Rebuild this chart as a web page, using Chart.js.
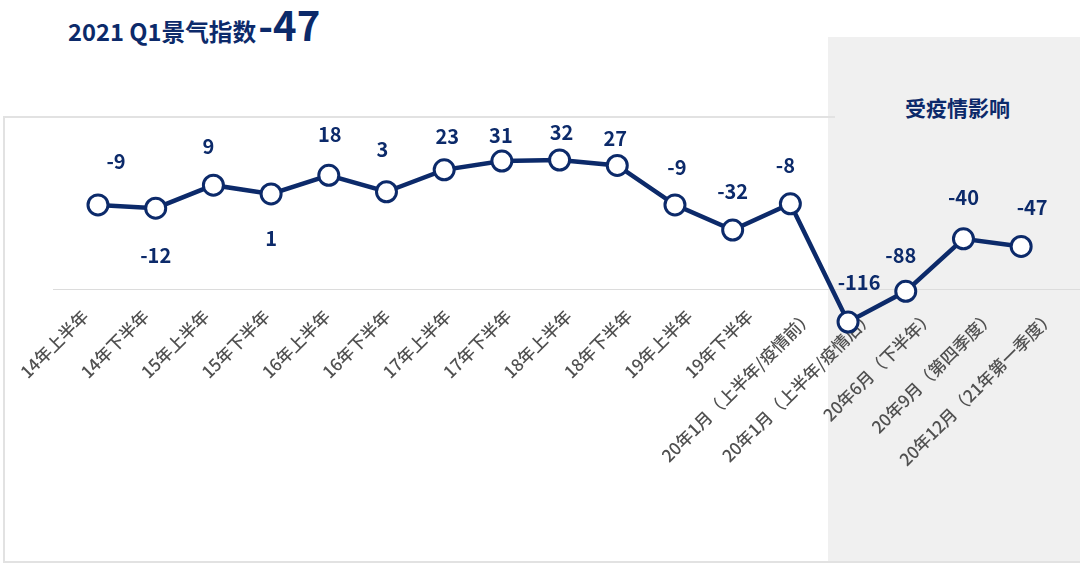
<!DOCTYPE html>
<html>
<head>
<meta charset="utf-8">
<script src="https://cdn.jsdelivr.net/npm/chart.js@4.4.0/dist/chart.umd.min.js"></script>
<style>
html,body{margin:0;padding:0;background:#fff;}
#wrap{position:relative;width:1080px;height:564px;overflow:hidden;font-family:"Noto Sans CJK SC","Noto Sans",sans-serif;}
.abs{position:absolute;}
#shade{left:828px;top:37px;width:252px;height:525px;background:#f0f0f0;}
#frameTop{left:3px;top:116px;width:832px;height:2px;background:#e2e2e2;}
#frameLeft{left:3px;top:116px;width:2px;height:447px;background:#e2e2e2;}
#frameBottom{left:3px;top:561px;width:1077px;height:2px;background:#e2e2e2;}
#axisLine{left:53px;top:289px;width:1027px;height:1px;background:#dcdcdc;}
#title{left:68px;top:4px;color:#0c2a6a;font-weight:700;white-space:nowrap;line-height:40px;font-size:40px;}
#title .a{font-size:23.7px;}
#title .b{font-size:40px;margin-left:2px;}
#shadeTitle{left:905px;top:97px;font-size:21px;line-height:21px;font-weight:700;color:#0c2a6a;white-space:nowrap;}
#c{position:absolute;left:0;top:0;}
</style>
</head>
<body>
<div id="wrap">
  <div class="abs" id="shade"></div>
  <div class="abs" id="frameTop"></div>
  <div class="abs" id="frameLeft"></div>
  <div class="abs" id="frameBottom"></div>
  <div class="abs" id="axisLine"></div>
  <div class="abs" id="title"><span class="a">2021 Q1景气指数</span><span class="b">-47</span></div>
  <div class="abs" id="shadeTitle">受疫情影响</div>
  <canvas id="c" width="1080" height="564"></canvas>
</div>
<script>
const categories = [
  '14年上半年','14年下半年','15年上半年','15年下半年','16年上半年','16年下半年',
  '17年上半年','17年下半年','18年上半年','18年下半年','19年上半年','19年下半年',
  '20年1月（上半年/疫情前）','20年1月（上半年/疫情后）','20年6月（下半年）',
  '20年9月（第四季度）','20年12月（21年第一季度）'
];
const indexValues = [-9, -12, 9, 1, 18, 3, 23, 31, 32, 27, -9, -32, -8, -116, -88, -40, -47];

// label placement relative to each point (style only)
const labelOffsets = [
  [18,-43],[0,47],[-5,-39],[0,44],[1,-41],[-4,-42],[3,-33],[-1,-26],[2,-28],
  [-2,-27],[2,-37],[0,-39],[-5,-38],[11,-40],[-5,-36],[0,-41],[11,-39]
];

const NAVY = '#0c2a6a';
const FONT = '"Noto Sans CJK SC","Noto Sans",sans-serif';

const valueLabels = {
  id: 'valueLabels',
  afterDatasetsDraw(chart) {
    const meta = chart.getDatasetMeta(0);
    const ctx = chart.ctx;
    ctx.save();
    ctx.font = 'bold 20px ' + FONT;
    ctx.fillStyle = NAVY;
    ctx.textAlign = 'center';
    ctx.textBaseline = 'middle';
    meta.data.forEach((pt, i) => {
      const off = labelOffsets[i] || [0, -38];
      ctx.fillText(String(indexValues[i]), pt.x + off[0], pt.y + off[1]);
    });
    ctx.restore();
  }
};

// let the rotated tick labels rise a little above the axis box (no clipping)
const noLabelClip = {
  id: 'noLabelClip',
  beforeDraw(chart) {
    const sx = chart.scales.x;
    if (sx) sx._computeLabelArea = () => undefined;
  }
};

new Chart(document.getElementById('c'), {
  type: 'line',
  data: {
    labels: categories,
    datasets: [{
      data: indexValues.map((v, i) => ({x: i, y: v})),
      xAxisID: 'xd',
      yAxisID: 'y',
      borderColor: NAVY,
      borderWidth: 4.5,
      tension: 0,
      clip: false,
      pointRadius: 10,
      pointHoverRadius: 10,
      pointBorderWidth: 3,
      pointBackgroundColor: '#ffffff',
      pointBorderColor: NAVY
    }]
  },
  options: {
    responsive: false,
    animation: false,
    events: [],
    layout: {autoPadding: false, padding: {left: 53, right: 0, top: 116, bottom: 0}},
    plugins: {legend: {display: false}, tooltip: {enabled: false}},
    scales: {
      x: {
        type: 'category',
        position: 'bottom',
        offset: true,
        grid: {display: false, drawTicks: false},
        border: {display: false},
        ticks: {
          autoSkip: false, minRotation: 45, maxRotation: 45,
          padding: -9, labelOffset: 2,
          color: '#505050',
          font: {size: 17, family: FONT, weight: 500}
        },
        afterFit: s => { s.height = 249; s.paddingLeft = 0; s.paddingRight = 0; }
      },
      xd: {type: 'linear', display: false, min: -0.78, max: 17.02},
      y: {display: false, min: -109.6, max: 72.2}
    }
  },
  plugins: [valueLabels, noLabelClip]
});
</script>
</body>
</html>
